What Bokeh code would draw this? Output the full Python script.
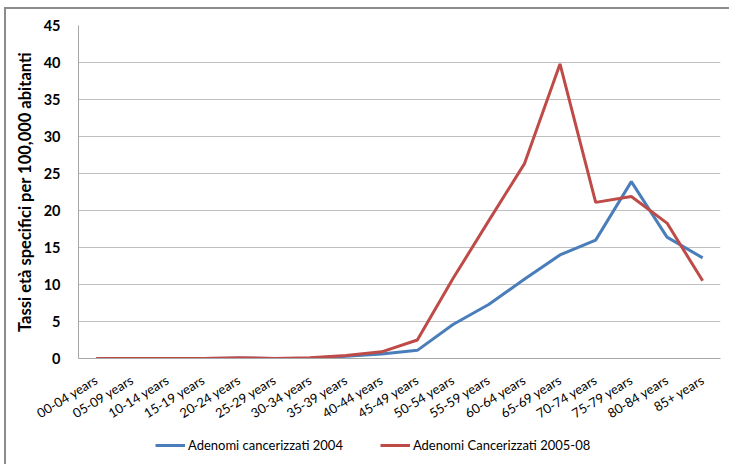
from bokeh.plotting import figure
from bokeh.layouts import column
from bokeh.models import Legend, LegendItem, FactorRange, Range1d
from bokeh.embed import file_html
from bokeh.resources import INLINE

categories = ["00-04 years", "05-09 years", "10-14 years", "15-19 years", "20-24 years",
              "25-29 years", "30-34 years", "35-39 years", "40-44 years", "45-49 years",
              "50-54 years", "55-59 years", "60-64 years", "65-69 years", "70-74 years",
              "75-79 years", "80-84 years", "85+ years"]
series_2004 = [0.0, 0.0, 0.0, 0.0, 0.05, 0.0, 0.05, 0.3, 0.6, 1.1,
               4.6, 7.3, 10.7, 14.0, 16.0, 23.9, 16.4, 13.6]
series_2005_08 = [0.0, 0.0, 0.0, 0.0, 0.1, 0.0, 0.1, 0.4, 0.9, 2.5,
                  10.8, 18.6, 26.3, 39.8, 21.1, 21.9, 18.3, 10.5]
label_2004 = "Adenomi cancerizzati 2004"
label_2005 = "Adenomi Cancerizzati 2005-08"
y_ticks = [0, 5, 10, 15, 20, 25, 30, 35, 40, 45]

FONT = "Lato"
BLUE = "#4a7ebb"
RED = "#be4b48"

p = figure(width=729, height=432, x_range=FactorRange(*categories, range_padding=0),
           y_range=Range1d(0, 45), output_backend="svg", toolbar_location=None,
           min_border_left=78, min_border_right=9, min_border_top=25, min_border_bottom=74)

p.outline_line_color = None
p.background_fill_color = "white"
p.border_fill_color = None

p.xgrid.grid_line_color = None
p.ygrid.grid_line_color = "#bfbfbf"
p.ygrid.grid_line_width = 1

p.yaxis.ticker = y_ticks
p.yaxis.axis_line_color = "#a6a6a6"
p.xaxis.axis_line_color = "#a6a6a6"
p.yaxis.major_tick_line_color = None
p.yaxis.minor_tick_line_color = None
p.xaxis.major_tick_line_color = None
p.xaxis.minor_tick_line_color = None
p.yaxis.major_label_text_font = FONT
p.yaxis.major_label_text_font_size = "14.5px"
p.yaxis.major_label_text_font_style = "bold"
p.yaxis.major_label_text_color = "#000000"
p.yaxis.major_label_standoff = 12
p.xaxis.major_label_text_font = FONT
p.xaxis.major_label_text_font_size = "13px"
p.xaxis.major_label_text_color = "#000000"
p.xaxis.major_label_orientation = 0.55
p.xaxis.major_label_standoff = 14

p.yaxis.axis_label = "Tassi età specifici per 100,000 abitanti"
p.yaxis.axis_label_text_font = FONT
p.yaxis.axis_label_text_font_size = "16.5px"
p.yaxis.axis_label_text_font_style = "bold"
p.yaxis.axis_label_text_color = "#000000"
p.yaxis.axis_label_standoff = 6

p.line(categories, series_2004, line_color=BLUE, line_width=3)
p.line(categories, series_2005_08, line_color=RED, line_width=3)

# legend strip below the chart (its lines lie outside its visible y range)
q = figure(width=729, height=32, x_range=FactorRange(*categories, range_padding=0),
           y_range=Range1d(1000, 1001), output_backend="svg", toolbar_location=None,
           x_axis_location=None, y_axis_location=None,
           min_border_left=0, min_border_right=0, min_border_top=0, min_border_bottom=0)
q.grid.visible = False
q.outline_line_color = None
q.background_fill_color = None
q.border_fill_color = None
k1 = q.line(categories, series_2004, line_color=BLUE, line_width=3)
k2 = q.line(categories, series_2005_08, line_color=RED, line_width=3)
legend = Legend(items=[LegendItem(label=label_2004, renderers=[k1]),
                       LegendItem(label=label_2005, renderers=[k2])],
                orientation="horizontal", location=(77, 9),
                label_text_font=FONT, label_text_font_size="13px",
                label_text_color="#000000", glyph_width=30, label_standoff=3,
                spacing=37, border_line_color=None, background_fill_alpha=0,
                margin=0, padding=0)
q.add_layout(legend, "center")

layout = column(p, q, spacing=0,
                styles={"box-shadow": "inset 4px 7px 0 0 #ffffff, inset 6px 9px 0 0 #8c8c8c"})

open("out.html", "w").write(file_html(layout, INLINE))
